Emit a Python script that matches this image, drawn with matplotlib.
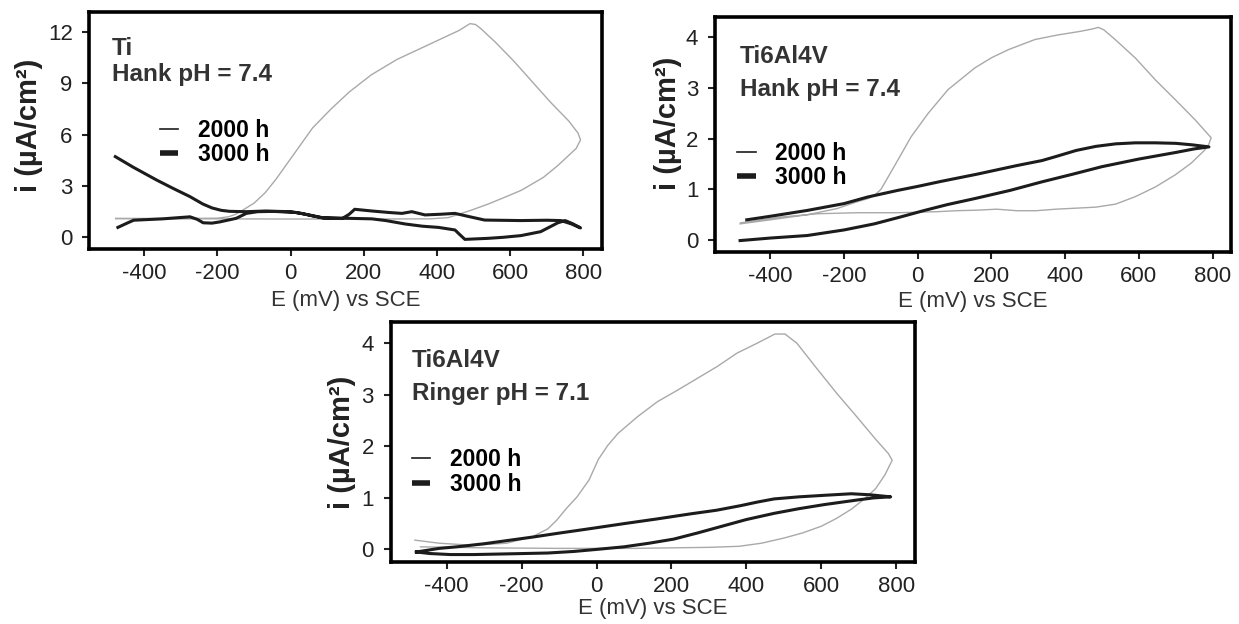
import matplotlib
matplotlib.use("Agg")
import matplotlib.pyplot as plt
from matplotlib.lines import Line2D

plt.rcParams['font.family'] = ['Liberation Sans', 'DejaVu Sans']
plt.rcParams['axes.unicode_minus'] = False

# shared axis settings
E_TICKS = [-400, -200, 0, 200, 400, 600, 800]
E_LIM = (-550, 850)
LEGEND_LABELS = ["2000 h", "3000 h"]
X_LABEL = "E (mV) vs SCE"
Y_LABEL = "i (µA/cm²)"

# --- Ti, Hank pH = 7.4 ---
ti_hank_2000_e = [-478, -300, -200, -170, -150, -130, -100, -70, -40, -10, 20, 60,
                  110, 160, 220, 290, 360, 420, 460, 490, 505, 520, 560, 610, 660,
                  710, 760, 785, 792, 780, 765, 730, 690, 630, 580, 540, 495, 460,
                  430, 380, 200, 0, -200, -478]
ti_hank_2000_i = [1.10, 1.10, 1.12, 1.2, 1.35, 1.6, 2.0, 2.6, 3.4, 4.3, 5.2, 6.4,
                  7.5, 8.5, 9.5, 10.4, 11.1, 11.7, 12.1, 12.5, 12.45, 12.2, 11.4,
                  10.3, 9.1, 7.9, 6.8, 6.1, 5.7, 5.2, 4.9, 4.2, 3.5, 2.75, 2.3,
                  1.95, 1.6, 1.35, 1.15, 1.08, 1.07, 1.07, 1.08, 1.10]
ti_hank_3000_e = [-472, -450, -429, -350, -275, -255, -239, -215, -194, -149, -121,
                  -90, -40, 0, 30, 60, 90, 141, 160, 175, 222, 270, 304, 331, 367,
                  410, 449, 490, 530, 629, 700, 738, 765, 792,
                  770, 750, 730, 683, 629, 580, 539, 476, 460, 449, 404, 360, 313,
                  260, 222, 141, 87, 50, 14, -67, -121, -167, -190, -215, -240,
                  -275, -320, -366, -430, -479]
ti_hank_3000_i = [0.58, 0.8, 1.0, 1.08, 1.2, 1.05, 0.85, 0.83, 0.9, 1.11, 1.4,
                  1.5, 1.52, 1.5, 1.4, 1.25, 1.12, 1.1, 1.35, 1.64, 1.54, 1.45,
                  1.4, 1.5, 1.31, 1.35, 1.4, 1.2, 1.01, 0.98, 1.0, 0.98, 0.8, 0.55,
                  0.8, 0.98, 0.85, 0.33, 0.1, 0.0, -0.06, -0.12, 0.2, 0.43, 0.58,
                  0.65, 0.78, 0.98, 1.08, 1.12, 1.15, 1.31, 1.45, 1.54, 1.5, 1.52,
                  1.58, 1.72, 1.95, 2.38, 2.85, 3.35, 4.1, 4.72]

# --- Ti6Al4V, Hank pH = 7.4 ---
tav_hank_2000_e = [-482, -400, -300, -220, -163, -135, -118, -100, -80, -54, -18,
                   28, 82, 155, 200, 246, 318, 380, 440, 475, 490, 505, 537, 591,
                   645, 699, 753, 785, 796, 790, 779, 742, 699, 645, 591, 537, 483,
                   429, 375, 322, 268, 214, 160, 106, 52, -2, -55, -163, -271, -378,
                   -481]
tav_hank_2000_i = [0.32, 0.40, 0.50, 0.62, 0.76, 0.82, 0.88, 1.0, 1.25, 1.58, 2.04,
                   2.5, 2.97, 3.40, 3.6, 3.76, 3.96, 4.05, 4.12, 4.17, 4.2, 4.15,
                   3.95, 3.59, 3.16, 2.77, 2.37, 2.11, 2.02, 1.9, 1.78, 1.52, 1.29,
                   1.05, 0.86, 0.71, 0.65, 0.63, 0.61, 0.58, 0.58, 0.61, 0.59, 0.58,
                   0.56, 0.55, 0.54, 0.54, 0.52, 0.45, 0.34]
tav_hank_3000_e = [-482, -400, -300, -200, -118, -50, 18, 80, 155, 250, 337, 420,
                   500, 600, 700, 750, 790,
                   745, 700, 645, 590, 537, 483, 430, 375, 337, 268, 160, 64, 0,
                   -55, -136, -200, -300, -400, -464]
tav_hank_3000_i = [-0.01, 0.04, 0.09, 0.2, 0.32, 0.45, 0.585, 0.7, 0.82, 0.98,
                   1.15, 1.3, 1.45, 1.6, 1.73, 1.8, 1.84,
                   1.88, 1.91, 1.92, 1.92, 1.9, 1.85, 1.77, 1.65, 1.57, 1.47, 1.3,
                   1.16, 1.06, 0.98, 0.85, 0.72, 0.585, 0.47, 0.40]

# --- Ti6Al4V, Ringer pH = 7.1 ---
tav_ringer_2000_e = [-485, -420, -330, -240, -170, -130, -106, -80, -52, -20, 5, 30,
                     57, 110, 163, 216, 269, 322, 375, 428, 460, 476, 503, 535, 588,
                     641, 694, 747, 779, 789, 770, 745, 715, 680, 640, 600, 550, 500,
                     440, 380, 300, 100, -100, -300, -470]
tav_ringer_2000_i = [0.18, 0.12, 0.08, 0.12, 0.25, 0.40, 0.57, 0.8, 1.02, 1.35, 1.75,
                     2.02, 2.25, 2.58, 2.87, 3.09, 3.32, 3.55, 3.81, 4.0, 4.12, 4.18,
                     4.18, 4.0, 3.51, 3.03, 2.58, 2.12, 1.86, 1.73, 1.45, 1.18, 0.98,
                     0.78, 0.6, 0.45, 0.32, 0.22, 0.12, 0.06, 0.04, 0.02, 0.02, 0.03,
                     0.05]
tav_ringer_3000_e = [-481, -420, -373, -300, -240, -170, -106, -20, 73, 160, 251, 320,
                     385, 430, 474, 540, 608, 680, 730, 785,
                     740, 697, 608, 540, 474, 400, 340, 270, 206, 140, 73, 0, -61,
                     -130, -195, -260, -329, -390, -445, -481]
tav_ringer_3000_i = [-0.05, 0.02, 0.05, 0.11, 0.17, 0.24, 0.31, 0.40, 0.5, 0.59,
                     0.69, 0.76, 0.85, 0.92, 0.98, 1.02, 1.05, 1.08, 1.06, 1.02,
                     1.0, 0.96, 0.87, 0.79, 0.70, 0.58, 0.46, 0.32, 0.2, 0.12, 0.05,
                     0.0, -0.04, -0.07, -0.08, -0.09, -0.1, -0.1, -0.08, -0.05]

GRAY = "#a9a9a9"
DARK = "#1c1c1c"


def draw_panel(ax, e2000, i2000, e3000, i3000, alloy, medium, yticks, ylim, lay):
    ax.plot(e2000, i2000, color=GRAY, lw=1.0, solid_joinstyle="round")
    ax.plot(e3000, i3000, color=DARK, lw=2.2, solid_joinstyle="round")
    ax.set_xlim(*E_LIM)
    ax.set_ylim(*ylim)
    ax.set_xticks(E_TICKS)
    ax.set_yticks(yticks)
    for s in ax.spines.values():
        s.set_linewidth(2.6)
        s.set_color("black")
    ax.tick_params(axis="both", direction="out", length=5, width=1.5,
                   labelsize=16, colors="#222222")
    ax.tick_params(axis="x", pad=5)
    ax.tick_params(axis="y", pad=7)
    ax.set_xlabel(X_LABEL, fontsize=16, color="#333333")
    ax.xaxis.set_label_coords(0.5, lay["xlab"])
    ax.set_ylabel(Y_LABEL, fontsize=21, fontweight="bold", color="#222222")
    ax.yaxis.set_label_coords(*lay["ylab"])

    tx = lay["tx"]
    ax.text(tx, lay["t1"], alloy, transform=ax.transAxes, fontsize=17.5,
            fontweight="bold", color="#333333", va="baseline")
    ax.text(tx, lay["t2"], medium, transform=ax.transAxes, fontsize=17.5,
            fontweight="bold", color="#333333", va="baseline")

    handles = [Line2D([], [], color=DARK, lw=1.2),
               Line2D([], [], color=DARK, lw=4.0, solid_capstyle="butt")]
    ax.legend(handles, LEGEND_LABELS, loc="upper left", bbox_to_anchor=lay["leg"],
              frameon=False, borderpad=0, borderaxespad=0, handlelength=0.8,
              handletextpad=0.85, labelspacing=0.05,
              prop={"weight": "bold", "size": 16.5})


fig = plt.figure(figsize=(12.39, 6.24), dpi=100)

ax1 = fig.add_axes([0.0721, 0.6005, 0.4136, 0.3808])
draw_panel(ax1, ti_hank_2000_e, ti_hank_2000_i, ti_hank_3000_e, ti_hank_3000_i,
           "Ti", "Hank pH = 7.4", [0, 3, 6, 9, 12], (-0.7, 13.2),
           dict(xlab=-0.171, ylab=(-0.091, 0.523), tx=0.0437, t1=0.818, t2=0.708,
                leg=(0.138, 0.549)))

ax2 = fig.add_axes([0.5771, 0.5966, 0.4165, 0.3766])
draw_panel(ax2, tav_hank_2000_e, tav_hank_2000_i, tav_hank_3000_e, tav_hank_3000_i,
           "Ti6Al4V", "Hank pH = 7.4", [0, 1, 2, 3, 4], (-0.23, 4.41),
           dict(xlab=-0.167, ylab=(-0.064, 0.545), tx=0.0484, t1=0.802, t2=0.6626,
                leg=(0.043, 0.466)))

ax3 = fig.add_axes([0.3152, 0.0989, 0.4233, 0.3856])
draw_panel(ax3, tav_ringer_2000_e, tav_ringer_2000_i, tav_ringer_3000_e,
           tav_ringer_3000_i, "Ti6Al4V", "Ringer pH = 7.1", [0, 1, 2, 3, 4],
           (-0.25, 4.42),
           dict(xlab=-0.15, ylab=(-0.066, 0.50), tx=0.0404, t1=0.813, t2=0.6746,
                leg=(0.0404, 0.473)))

fig.savefig("out.png", dpi=100, facecolor="white")
